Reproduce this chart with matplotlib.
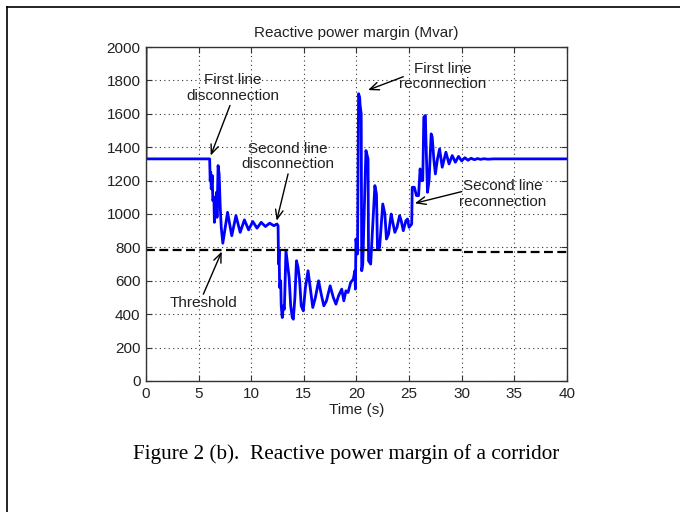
import matplotlib
matplotlib.use("Agg")
import matplotlib.pyplot as plt
from matplotlib.lines import Line2D

# reactive power margin trace (s, Mvar)
time_s = [0, 0, 6.05, 6.1, 6.15, 6.2, 6.3, 6.35, 6.45, 6.5, 6.6, 6.7, 6.75, 6.85,
          6.95, 7.05, 7.15, 7.3, 7.75, 8.15, 8.55, 8.95, 9.35, 9.75, 10.15, 10.55,
          10.95, 11.35, 11.75, 12.15, 12.45, 12.55, 12.6, 12.65, 12.7, 12.8, 12.85,
          12.95, 13.05, 13.15, 13.3, 13.45, 13.6, 13.75, 13.9, 14.0, 14.15, 14.3,
          14.45, 14.6, 14.75, 14.95, 15.15, 15.4, 15.6, 15.85, 16.1, 16.4, 16.65,
          16.9, 17.15, 17.5, 17.8, 18.05, 18.3, 18.6, 18.8, 19.0, 19.2, 19.45, 19.7,
          19.85, 19.9, 19.95, 20.05, 20.1, 20.2, 20.3, 20.35, 20.45, 20.5, 20.6,
          20.9, 21.1, 21.15, 21.35, 21.75, 21.9, 22.0, 22.2, 22.5, 22.7, 22.85,
          23.05, 23.3, 23.45, 23.65, 23.85, 24.1, 24.25, 24.45, 24.7, 24.85, 25.0,
          25.25, 25.3, 25.5, 25.7, 25.9, 26.05, 26.15, 26.3, 26.4, 26.55, 26.6,
          26.75, 26.9, 27.1, 27.2, 27.35, 27.5, 27.7, 27.9, 28.15, 28.5, 28.8, 29.1,
          29.4, 29.7, 30.0, 30.3, 30.6, 30.9, 31.2, 31.5, 31.8, 32.1, 32.5, 33, 40]
margin = [2000, 1330, 1330, 1200, 1250, 1150, 1230, 1080, 1100, 950, 1050, 1130, 980,
          1290, 1240, 1050, 920, 825, 1010, 870, 990, 890, 965, 905, 955, 915,
          950, 925, 945, 930, 940, 930, 700, 780, 560, 600, 450,
          380, 450, 430, 780, 700, 620, 450, 380, 370, 500, 720,
          680, 600, 450, 420, 560, 660, 560, 440, 500, 600, 520,
          450, 480, 570, 500, 460, 510, 550, 480, 540, 530, 590, 610,
          660, 550, 850, 800, 760, 1720, 1700, 1650, 1600, 660, 700,
          1380, 1330, 720, 700, 1170, 1120, 790, 800, 1060, 1000, 850,
          880, 1000, 950, 890, 920, 990, 960, 900, 960, 970, 920,
          940, 1160, 1160, 1110, 1110, 1270, 1200, 1200, 1580, 1590, 1450,
          1130, 1200, 1480, 1460, 1330, 1240, 1330, 1390, 1280, 1370, 1300, 1350,
          1310, 1345, 1318, 1337, 1322, 1334, 1325, 1332, 1327, 1331, 1328, 1330, 1330]

thr_time = [0, 30, 30, 40]
thr_value = [785, 785, 775, 775]

# (label, text centre, arrow tail, arrow head)
notes = [
    ("First line\ndisconnection", (8.27, 1754), (7.98, 1650), (6.15, 1350)),
    ("Second line\ndisconnection", (13.44, 1344), (13.5, 1240), (12.42, 960)),
    ("First line\nreconnection", (28.2, 1823), (24.45, 1822), (21.1, 1742)),
    ("Second line\nreconnection", (33.9, 1120), (30.0, 1134), (25.55, 1064)),
    ("Threshold", (5.5, 467), (5.45, 520), (7.2, 775)),
]

plt.rcParams['font.family'] = ['Liberation Sans', 'DejaVu Sans']
plt.rcParams['font.size'] = 11

fig = plt.figure(figsize=(6.8, 5.12), dpi=100)
ax = fig.add_axes([0.2147, 0.2559, 0.619, 0.6523])

ax.plot(time_s, margin, color='#0000ff', lw=2)
ax.plot(thr_time, thr_value, color='black', lw=1.6, dashes=(4, 2))

ax.set_xlim(0, 40)
ax.set_ylim(0, 2000)
ax.set_xticks(range(0, 41, 5))
ax.set_yticks(range(0, 2001, 200))
ax.grid(True, color='#333333', linestyle=(0, (1, 3)), lw=0.8)
ax.tick_params(direction='in', top=True, right=True, length=4, pad=4,
               labelsize=11, color='#333333', labelcolor='#222222')
for s in ax.spines.values():
    s.set_color('#333333')
    s.set_linewidth(1)

ax.set_title("Reactive power margin (Mvar)", fontsize=11, pad=7, color='#222222')
ax.set_xlabel("Time (s)", fontsize=11, labelpad=2, color='#222222')

for label, pos, tail, head in notes:
    ax.text(pos[0], pos[1], label, ha='center', va='center', fontsize=11,
            linespacing=1.15, color='#222222')
    ax.annotate('', xy=head, xytext=tail,
                arrowprops=dict(arrowstyle='->,head_length=0.6,head_width=0.25',
                                color='black', lw=1, shrinkA=0, shrinkB=0))

fig.text(0.509, 1 - 454 / 512, "Figure 2 (b).  Reactive power margin of a corridor",
         ha='center', va='center', fontsize=15.3, family='Liberation Serif')

fig.add_artist(Line2D([6.5 / 680, 6.5 / 680], [0, 1 - 7 / 512], color='black', lw=1.2))
fig.add_artist(Line2D([6.5 / 680, 1], [1 - 7 / 512, 1 - 7 / 512], color='black', lw=1.2))

fig.savefig("out.png", dpi=100)
